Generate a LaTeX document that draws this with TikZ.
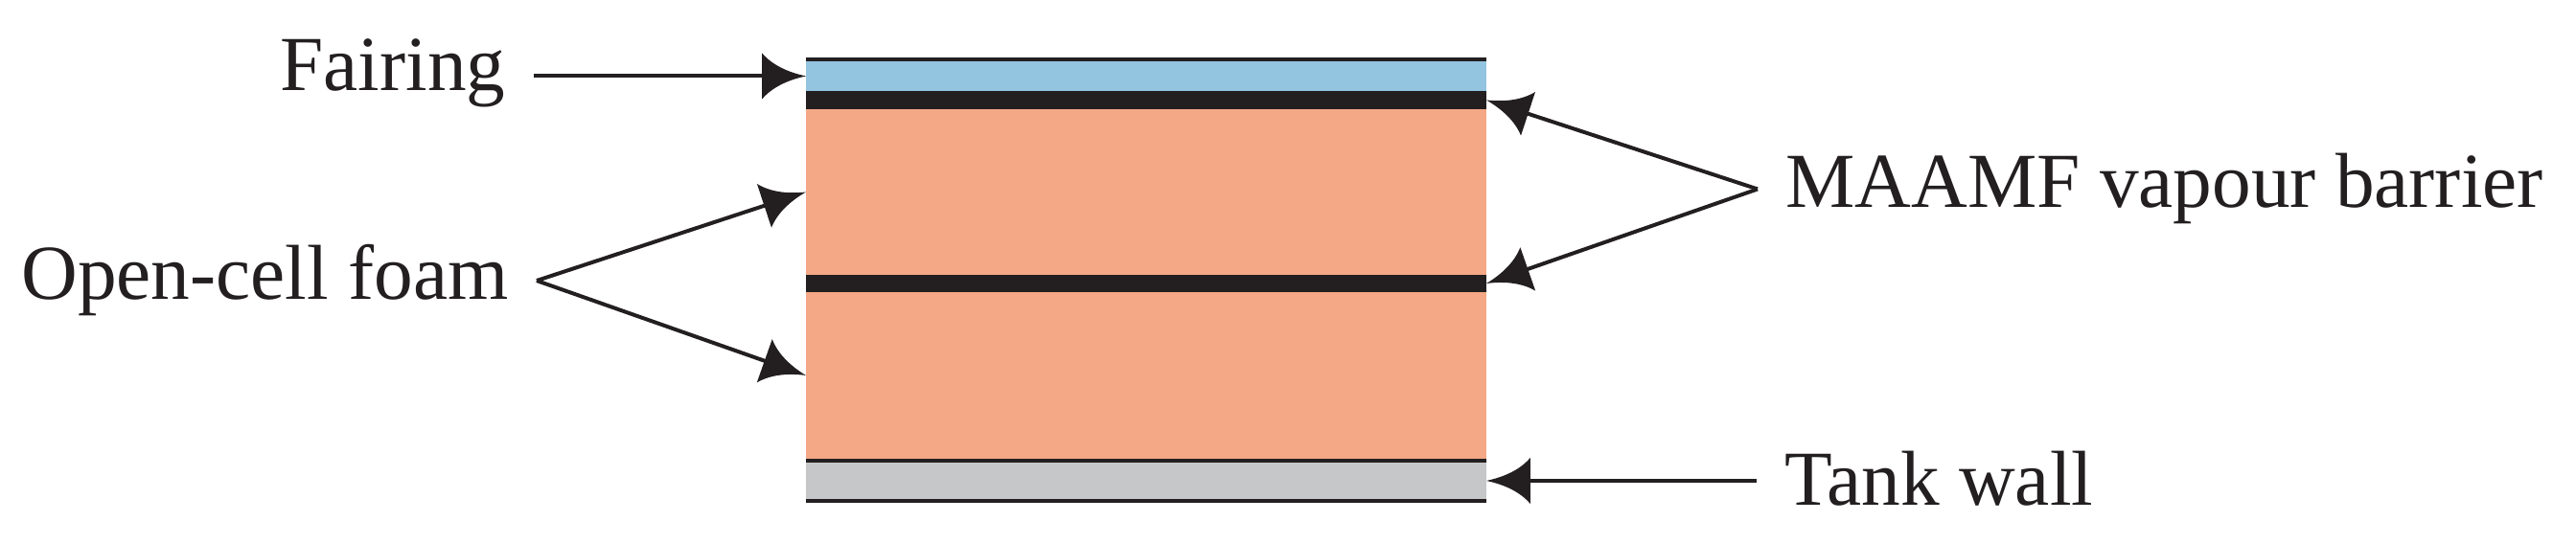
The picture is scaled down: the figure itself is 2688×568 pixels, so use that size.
\documentclass[tikz,border=0pt]{standalone}
\usepackage{fontspec}
\setmainfont{Liberation Serif}
\usetikzlibrary{arrows.meta,fit}
\definecolor{fairblue}{RGB}{147,196,224}
\definecolor{foamorange}{RGB}{244,168,133}
\definecolor{wallgrey}{RGB}{198,199,201}
\definecolor{inkblack}{RGB}{35,31,32}
% arrow tip with concave flanks
\pgfdeclarearrow{
  name=Barb,
  setup code={
    \pgfarrowssettipend{0pt}
    \pgfarrowssetlineend{-3pt}
    \pgfarrowssetbackend{-6.2pt}
    \pgfarrowshullpoint{0pt}{0pt}
    \pgfarrowshullpoint{-6.2pt}{3.25pt}
    \pgfarrowshullpoint{-6.2pt}{-3.25pt}
  },
  drawing code={
    \pgfpathmoveto{\pgfpointorigin}
    \pgfpathcurveto{\pgfpoint{-2.6pt}{0.55pt}}{\pgfpoint{-4.8pt}{1.6pt}}{\pgfpoint{-6.2pt}{3.25pt}}
    \pgfpathlineto{\pgfpoint{-6.2pt}{-3.25pt}}
    \pgfpathcurveto{\pgfpoint{-4.8pt}{-1.6pt}}{\pgfpoint{-2.6pt}{-0.55pt}}{\pgfpointorigin}
    \pgfpathclose
    \pgfusepathqfill
  }
}
\tikzset{
    %Define standard arrow tip
    >=Barb,
    %Define style for layers
    layer/.style={
           rectangle,
           inner sep=0pt,
           outer sep=0pt},
    %Define style for labels
    lab/.style={
           font=\fontsize{11}{13}\selectfont,
           text=inkblack,
           inner xsep=4pt,
           inner ysep=0pt,
           outer sep=0pt},
    % Define arrow style
    pil/.style={
           ->,
           draw=inkblack,
           line width=0.54pt}
}
\begin{document}
\begin{tikzpicture}[x=0.1353pt,y=-0.1353pt]
\useasboundingbox (0,0) rectangle (2688,568);
 %layers
\fill[inkblack] (841,60) rectangle (1551,64);
\node[layer, fill=fairblue, fit={(841,64) (1551,95)}](fairing){};
\node[layer, fill=inkblack, fit={(841,95) (1551,114)}](barA){};
\node[layer, fill=foamorange, fit={(841,114) (1551,287)}](foamA){};
\node[layer, fill=inkblack, fit={(841,287) (1551,305)}](barB){};
\node[layer, fill=foamorange, fit={(841,305) (1551,479)}](foamB){};
\fill[inkblack] (841,479) rectangle (1551,483);
\node[layer, fill=wallgrey, fit={(841,483) (1551,521)}](wall){};
\fill[inkblack] (841,521) rectangle (1551,525);

 %labels
\node[lab, anchor=base east](fairlab) at (557,95){Fairing};
\node[lab, anchor=base east](foamlab) at (560,313){Open-cell foam};
\node[lab, anchor=base west](barlab) at (1834,217){MAAMF vapour barrier};
\node[lab, anchor=base west](walllab) at (1833,528){Tank wall};

\path
    (fairing.west -| fairlab.east) edge[pil] (fairing.west)
    (foamlab.east) edge[pil] (foamA.west)
    (foamlab.east) edge[pil] (foamB.west)
    (barlab.west) edge[pil] (barA.east)
    (barlab.west) edge[pil] (barB.east)
    (wall.east -| walllab.west) edge[pil] (wall.east);
\end{tikzpicture}
\end{document}
